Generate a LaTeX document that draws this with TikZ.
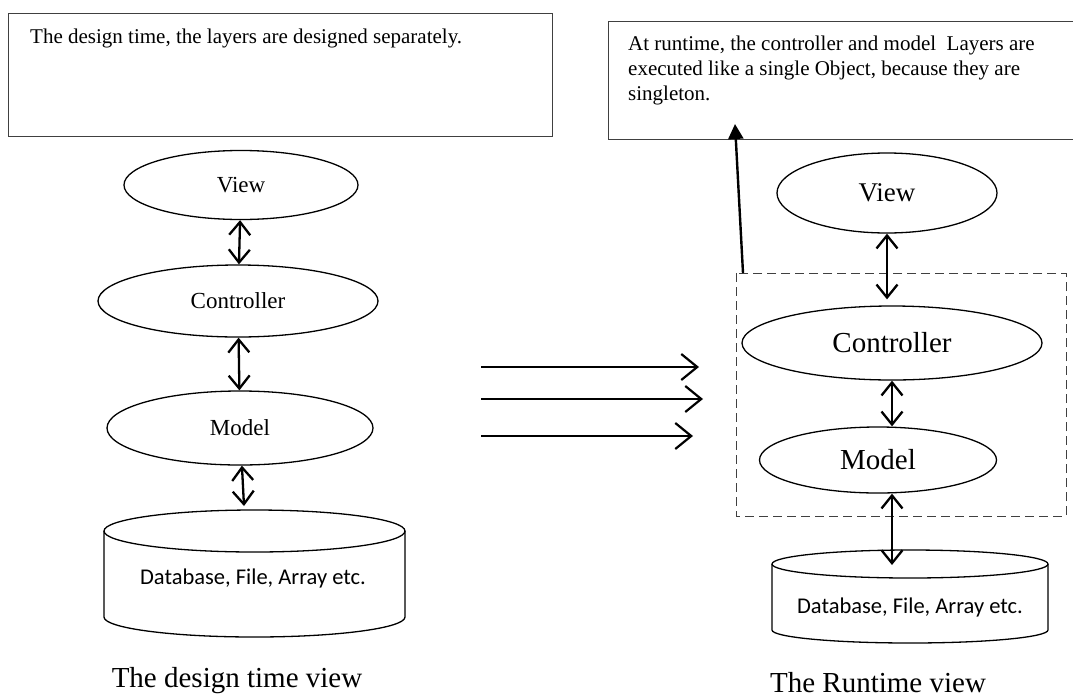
\documentclass[tikz,border=0pt]{standalone}
\usepackage{fontspec}
\setmainfont{Liberation Serif}
\newfontfamily\calibri{Carlito}
\usetikzlibrary{arrows.meta,shapes.geometric}

\begin{document}
\begin{tikzpicture}[x=1pt,y=-1pt,
  layer/.style={ellipse, draw, line width=1.3pt, inner sep=0pt},
  dbl/.style={{Straight Barb[length=13pt,width=21pt]}-{Straight Barb[length=13pt,width=21pt]}, line width=2.3pt},
  flow/.style={-{Straight Barb[length=16pt,width=26pt]}, line width=2.2pt},
  callout/.style={-{Triangle[length=15pt,width=15pt]}, line width=2.4pt},
  frame/.style={draw=black!75, line width=1pt},
  groupbox/.style={draw=black!75, line width=1pt, dash pattern=on 9pt off 5pt},
  drum/.style={draw, line width=1.3pt},
  notetext/.style={font=\fontsize{21}{25}\selectfont, anchor=base west, inner sep=0pt},
  dbtext/.style={font=\calibri\fontsize{22.5}{27}\selectfont, inner sep=0pt},
  caption/.style={font=\fontsize{29}{34}\selectfont, anchor=base, inner sep=0pt}]

\useasboundingbox (0,0) rectangle (1073,699);

% ---------- design time ----------
\draw[frame] (8,13) rectangle (552,136);
\node[notetext] (n1) at (30,43) {The design time, the layers are designed separately.};

\node[layer, minimum width=234pt, minimum height=69pt, font=\fontsize{23}{27}\selectfont] (v1) at (241,185) {View};
\node[layer, minimum width=280pt, minimum height=72pt, font=\fontsize{23}{27}\selectfont] (c1) at (238,301) {Controller};
\node[layer, minimum width=266pt, minimum height=74pt, font=\fontsize{23}{27}\selectfont] (m1) at (240,428) {Model};

% storage drum
\draw[drum, fill=white] (104,531) -- (104,617) arc[start angle=180, end angle=0, x radius=150.5, y radius=20] -- (405,531);
\draw[drum] (254.5,531) ellipse[x radius=150.5, y radius=21];
\node[dbtext] (db1) at (253,578) {Database, File, Array etc.};
\coordinate (db1top) at (244,506);

\draw[dbl] (v1) -- (c1);
\draw[dbl] (c1) -- (m1);
\draw[dbl] (m1) -- (db1top);

\node[caption] (t1) at (237,687) {The design time view};

% ---------- transition ----------
\coordinate (a1s) at (481,367); \coordinate (a1e) at (699,367);
\coordinate (a2s) at (481,399); \coordinate (a2e) at (703,399);
\coordinate (a3s) at (481,436); \coordinate (a3e) at (693,436);
\draw[flow] (a1s) -- (a1e);
\draw[flow] (a2s) -- (a2e);
\draw[flow] (a3s) -- (a3e);

% ---------- runtime ----------
\draw[frame] (1074,21) -- (608,21) -- (608,139) -- (1074,139);
\node[notetext] (r1) at (628,50) {At runtime, the controller and model~ Layers are};
\node[notetext] (r2) at (628,75) {executed like a single Object, because they are};
\node[notetext] (r3) at (628,100) {singleton.};

\draw[groupbox] (736,273) rectangle (1066,516);
\coordinate (grp) at (743,273);
\coordinate (notetip) at (735,124);

\node[layer, minimum width=220pt, minimum height=80pt, font=\fontsize{27}{32}\selectfont] (v2) at (887,193) {View};
\node[layer, minimum width=300pt, minimum height=74pt, font=\fontsize{29}{34}\selectfont] (c2) at (892,343) {Controller};
\node[layer, minimum width=237pt, minimum height=66pt, font=\fontsize{29}{34}\selectfont] (m2) at (878,460) {Model};

\draw[drum, fill=white] (772,564) -- (772,630) arc[start angle=180, end angle=0, x radius=138, y radius=13] -- (1048,564);
\draw[drum] (910,564) ellipse[x radius=138, y radius=14];
\node[dbtext] (db2) at (910,607) {Database, File, Array etc.};
\coordinate (db2top) at (892,565);

\draw[dbl, shorten >=6pt] (v2.south) -- (v2.south |- c2.north);
\draw[dbl] (c2.south) -- (c2.south |- m2.north);
\draw[dbl] (db2top |- m2.south) -- (db2top);
\draw[callout] (grp) -- (notetip);

\node[caption] (t2) at (878,692) {The Runtime view};
\end{tikzpicture}
\end{document}
